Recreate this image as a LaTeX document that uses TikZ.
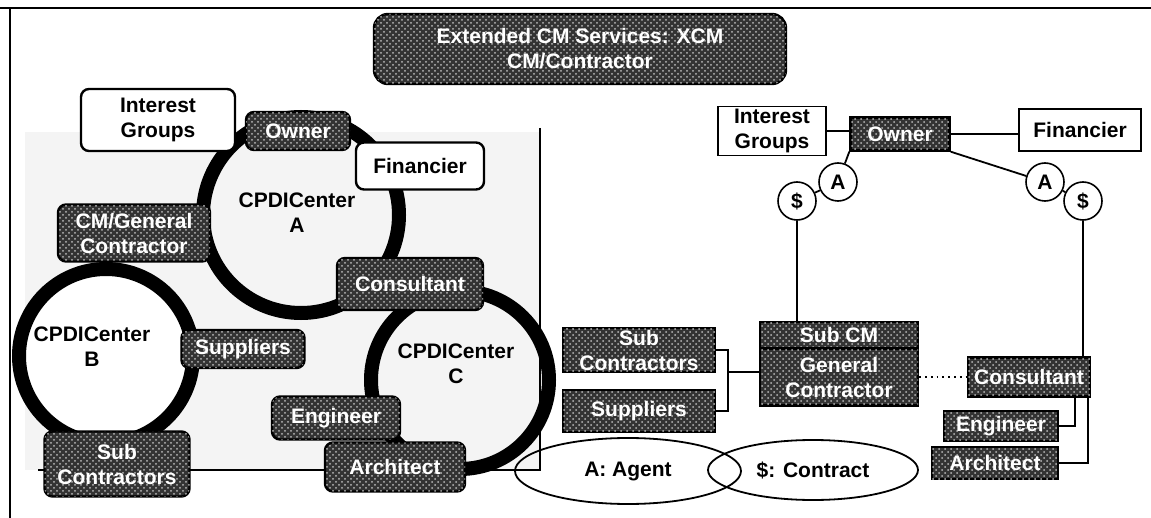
\documentclass[tikz,border=0pt]{standalone}
\usepackage{fontspec}
\setmainfont{Liberation Sans}
\usetikzlibrary{patterns,shapes.geometric}

\tikzset{
  darkbox/.style={draw=black,line width=1.2pt,fill=black!80,text=white,
    rounded corners=4pt,inner sep=0pt,align=center,
    postaction={pattern=crosshatch dots,pattern color=gray!55}},
  darkrect/.style={darkbox,rounded corners=0pt},
  lightbox/.style={draw=black,line width=1.2pt,fill=white,rounded corners=4pt,
    inner sep=0pt,align=center},
  plainbox/.style={draw=black,line width=0.8pt,fill=white,inner sep=0pt,align=center},
  agentcirc/.style={circle,draw=black,line width=0.8pt,fill=white,minimum size=19pt,inner sep=0pt},
  legendoval/.style={ellipse,draw=black,line width=0.9pt,inner sep=0pt},
  ring/.style={line width=7pt},
  wire/.style={line width=0.9pt}
}

\begin{document}
\begin{tikzpicture}[x=0.5pt,y=-0.5pt,font=\fontsize{10.5}{12.5}\selectfont\bfseries]
  \useasboundingbox (0,0) rectangle (1151,518);

  % page frame
  \draw[line width=1.2pt] (0,8) -- (1151,8);
  \draw[line width=1.2pt] (10,8) -- (10,518);

  % title
  \node[darkbox,rounded corners=7pt,minimum width=206pt,minimum height=35pt] (title)
    at (580,49) {Extended CM Services: XCM\\CM/Contractor};

  % left panel: stippled field and its frame
  \fill[gray!9] (25,132) rectangle (540,470);
  \fill[white] (106,356) circle (43.5pt);
  \draw[wire] (540,128) -- (540,470) -- (38,470);

  % the three centers
  \draw[ring] (301,215) circle (49pt);
  \draw[ring] (106,356) circle (43.5pt);
  \draw[ring] (460,380) circle (44.5pt);
  \node[align=center] (cpda) at (297,213) {CPDICenter\\A};
  \node[align=center] (cpdb) at (92,347) {CPDICenter\\B};
  \node[align=center] (cpdc) at (456,364) {CPDICenter\\C};

  % left panel parties
  \node[lightbox,minimum width=77pt,minimum height=31pt] (lig) at (158,120) {Interest\\Groups};
  \node[darkbox,minimum width=52pt,minimum height=19pt] (lown) at (298,131) {Owner};
  \node[lightbox,minimum width=64pt,minimum height=23.5pt] (lfin) at (420,166) {Financier};
  \node[darkbox,minimum width=76pt,minimum height=28.5pt] (lgc) at (134,233) {CM/General\\Contractor};
  \node[darkbox,minimum width=73pt,minimum height=26pt] (lcons) at (410,284) {Consultant};
  \node[darkbox,minimum width=61.5pt,minimum height=19pt] (lsup) at (243,349) {Suppliers};
  \node[darkbox,minimum width=64pt,minimum height=21.5pt] (leng) at (336,418) {Engineer};
  \node[darkbox,minimum width=72.5pt,minimum height=32.5pt] (lsub) at (117,464) {Sub\\Contractors};
  \node[darkbox,minimum width=70pt,minimum height=24.5pt] (larc) at (395,467) {Architect};

  % right panel parties
  \node[plainbox,minimum width=54pt,minimum height=24.5pt] (rig) at (772,131) {Interest\\Groups};
  \node[darkrect,minimum width=49.5pt,minimum height=16.5pt] (rown) at (900,134) {Owner};
  \node[plainbox,minimum width=61pt,minimum height=21pt] (rfin) at (1080,130) {Financier};
  \node[agentcirc] (ra1) at (838,182) {A};
  \node[agentcirc] (rs1) at (797,201) {\$};
  \node[agentcirc] (ra2) at (1045,182) {A};
  \node[agentcirc] (rs2) at (1083,201) {\$};
  \node[darkrect,minimum width=79pt,minimum height=13pt] (rsubcm) at (839,335) {Sub CM};
  \node[darkrect,minimum width=79pt,minimum height=28.5pt] (rgc) at (839,377) {General\\Contractor};
  \node[darkrect,minimum width=76pt,minimum height=22pt] (rsub) at (639,350) {Sub\\Contractors};
  \node[darkrect,minimum width=76pt,minimum height=21pt] (rsup) at (639,411) {Suppliers};
  \node[darkrect,minimum width=61pt,minimum height=19.5pt] (rcons) at (1029,377) {Consultant};
  \node[darkrect,minimum width=57pt,minimum height=15pt] (reng) at (1001,426) {Engineer};
  \node[darkrect,minimum width=63pt,minimum height=16pt] (rarc) at (995,463) {Architect};

  % legend
  \node[legendoval,minimum width=113pt,minimum height=33pt] (eag) at (628,471) {A: Agent};
  \node[legendoval,minimum width=105pt,minimum height=30pt] (econ) at (813,470) {\$: Contract};

  % right panel links
  \coordinate (rbr) at (728,372);
  \draw[wire] (rig.east) -- (rig.east -| rown.west);
  \draw[wire] (rown.east) -- (rown.east -| rfin.west);
  \draw[wire] (rown.south west) -- (ra1);
  \draw[wire] (ra1) -- (rs1);
  \draw[wire] (rs1.south) -- (rs1.south |- rsubcm.north);
  \draw[wire] (rown.south east) -- (ra2);
  \draw[wire] (ra2) -- (rs2);
  \draw[wire] (rs2.south) -- (rs2.south |- rcons.north);
  \draw[wire] (rsub.east) -| (rbr) |- (rsup.east);
  \draw[wire] (rbr) -- (rbr -| rgc.west);
  \draw[wire,dotted,line width=1.2pt] (rgc.east) -- (rgc.east -| rcons.west);
  \draw[wire] (reng.east) -| ([xshift=-8pt]rcons.south east);
  \draw[wire] (rarc.east) -| ([xshift=-1.5pt]rcons.south east);
\end{tikzpicture}
\end{document}
